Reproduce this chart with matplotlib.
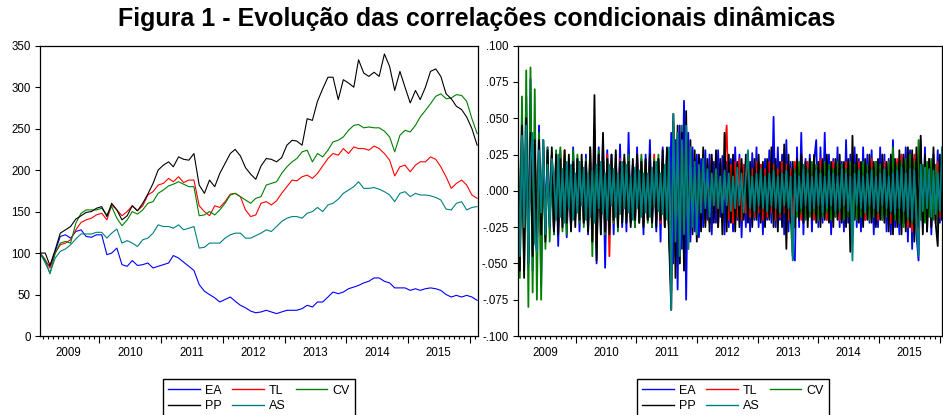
import matplotlib
matplotlib.use("Agg")
import matplotlib.pyplot as plt
import matplotlib.dates as mdates
from matplotlib.ticker import NullFormatter, FixedLocator, FuncFormatter
from matplotlib.transforms import blended_transform_factory
from matplotlib import font_manager
from matplotlib.lines import Line2D
import pandas as pd
import datetime as dt

# ---------------- data ----------------
title = "Figura 1 - Evolução das correlações condicionais dinâmicas"
series_names = ["EA", "TL", "CV", "PP", "AS"]
series_colors = ["#0000FF", "#FF0000", "#008000", "#000000", "#008080"]

# monthly index levels (mid-month, Jan 2009 .. Feb 2016)
price_dates = pd.date_range("2009-01-01", periods=86, freq="MS") + pd.Timedelta(days=14)

EA = [100, 90, 84, 102, 120, 122, 118, 126, 128, 120,
      119, 122, 122, 98, 100, 106, 86, 84, 91, 85,
      86, 88, 82, 84, 86, 88, 97, 94, 89, 84,
      79, 62, 54, 50, 46, 41, 44, 47, 42, 37,
      34, 30, 28, 29, 31, 29, 27, 29, 31, 31,
      31, 33, 37, 35, 41, 41, 47, 53, 51, 53,
      57, 59, 61, 64, 66, 70, 70, 66, 64, 58,
      58, 58, 55, 57, 55, 57, 58, 57, 55, 50,
      47, 49, 47, 49, 47, 43]
TL = [100, 92, 82, 100, 110, 112, 116, 128, 137, 140,
      142, 146, 148, 140, 158, 152, 145, 150, 157, 151,
      157, 170, 174, 182, 184, 190, 186, 192, 185, 188,
      188, 157, 150, 145, 157, 155, 162, 171, 172, 168,
      152, 144, 146, 160, 162, 158, 163, 172, 180, 188,
      187, 192, 194, 190, 196, 205, 214, 220, 218, 226,
      220, 228, 226, 226, 224, 229, 226, 220, 212, 193,
      204, 206, 198, 206, 210, 210, 216, 213, 204, 192,
      178, 184, 188, 182, 170, 166]
CV = [100, 92, 75, 100, 112, 114, 112, 136, 148, 152,
      152, 152, 154, 146, 156, 142, 133, 140, 150, 147,
      152, 160, 162, 172, 176, 181, 183, 186, 183, 180,
      180, 145, 146, 150, 146, 152, 160, 170, 172, 168,
      164, 160, 166, 168, 182, 184, 186, 196, 204, 210,
      214, 222, 224, 210, 220, 216, 224, 234, 236, 240,
      248, 254, 255, 251, 252, 251, 251, 247, 240, 222,
      242, 248, 246, 254, 264, 272, 280, 289, 292, 286,
      287, 291, 290, 283, 262, 244]
PP = [100, 100, 85, 104, 124, 128, 132, 141, 145, 149,
      150, 154, 156, 144, 160, 152, 140, 145, 157, 151,
      160, 171, 184, 200, 206, 210, 204, 216, 213, 212,
      220, 182, 172, 188, 180, 196, 208, 220, 225, 217,
      203, 195, 189, 205, 214, 213, 210, 215, 230, 236,
      235, 230, 262, 260, 283, 298, 312, 312, 285, 309,
      305, 300, 333, 317, 313, 318, 313, 340, 325, 296,
      319, 300, 281, 296, 285, 300, 319, 322, 313, 292,
      286, 277, 273, 264, 250, 230]
AS = [100, 88, 76, 94, 102, 105, 110, 117, 123, 123,
      123, 125, 125, 118, 124, 129, 112, 115, 112, 108,
      116, 118, 124, 134, 132, 132, 130, 134, 128, 130,
      132, 106, 107, 112, 112, 112, 118, 122, 124, 124,
      118, 118, 121, 124, 128, 126, 132, 138, 142, 144,
      144, 142, 148, 150, 155, 150, 158, 160, 165, 172,
      176, 180, 186, 178, 178, 179, 177, 174, 170, 162,
      172, 174, 168, 172, 170, 170, 169, 167, 164, 153,
      152, 160, 162, 152, 155, 156]

# returns (sampled), Jan 2009 .. Jan 2016
return_dates = pd.date_range("2009-01-16", "2016-01-15", periods=200)

rEA = [0.020, -0.040, 0.050, -0.030, 0.065, -0.045, 0.077, -0.055, 0.030, -0.035,
       0.045, -0.065, 0.035, -0.025, 0.030, -0.020, 0.025, -0.030, 0.020, -0.038,
       0.028, -0.020, 0.022, -0.032, 0.018, -0.025, 0.030, -0.015, 0.022, -0.028,
       0.018, -0.022, 0.025, -0.030, 0.020, -0.025, 0.042, -0.050, 0.030, -0.020,
       0.035, -0.053, 0.028, -0.020, 0.025, -0.030, 0.018, -0.022, 0.032, -0.025,
       0.020, -0.028, 0.040, -0.022, 0.018, -0.025, 0.030, -0.020, 0.022, -0.030,
       0.025, -0.018, 0.035, -0.025, 0.020, -0.028, 0.022, -0.035, 0.030, -0.020,
       0.028, -0.030, 0.040, -0.050, 0.035, -0.068, 0.045, -0.040, 0.062, -0.075,
       0.040, -0.035, 0.030, -0.028, 0.025, -0.032, 0.022, -0.025, 0.028, -0.020,
       0.025, -0.030, 0.020, -0.022, 0.028, -0.018, 0.024, -0.030, 0.020, -0.025,
       0.022, -0.028, 0.030, -0.020, 0.025, -0.032, 0.018, -0.025, 0.022, -0.028,
       0.026, -0.020, 0.030, -0.025, 0.018, -0.030, 0.022, -0.020, 0.028, -0.022,
       0.051, -0.025, 0.030, -0.020, 0.025, -0.030, 0.035, -0.028, 0.020, -0.045,
       -0.048, 0.030, -0.025, 0.040, -0.030, 0.022, -0.020, 0.025, -0.028, 0.020,
       0.035, -0.025, 0.030, -0.022, 0.040, -0.020, 0.025, -0.030, 0.022, -0.018,
       0.030, -0.025, 0.020, -0.028, 0.035, -0.022, 0.025, -0.020, 0.030, -0.025,
       0.022, -0.028, 0.030, -0.020, 0.025, -0.022, 0.028, -0.030, 0.020, -0.025,
       0.030, -0.020, 0.025, -0.028, 0.022, -0.030, 0.035, -0.025, 0.020, -0.030,
       0.025, -0.022, 0.030, -0.035, 0.028, -0.040, 0.022, -0.030, -0.048, 0.035,
       -0.025, 0.030, -0.028, 0.022, -0.030, 0.025, -0.020, 0.028, -0.022, 0.018]
rTL = [0.030, -0.035, 0.040, -0.050, 0.035, -0.040, 0.045, -0.030, 0.028, -0.035,
       0.030, -0.025, 0.028, -0.030, 0.022, -0.020, 0.025, -0.028, 0.020, -0.022,
       0.025, -0.020, 0.028, -0.022, 0.018, -0.025, 0.020, -0.018, 0.022, -0.020,
       0.018, -0.022, 0.020, -0.025, 0.028, -0.035, 0.030, -0.040, 0.025, -0.020,
       0.022, -0.030, 0.025, -0.045, 0.020, -0.022, 0.018, -0.020, 0.022, -0.018,
       0.020, -0.018, 0.022, -0.020, 0.018, -0.022, 0.025, -0.018, 0.020, -0.022,
       0.018, -0.020, 0.022, -0.018, 0.025, -0.020, 0.018, -0.022, 0.020, -0.025,
       0.022, -0.030, -0.062, 0.045, -0.040, 0.035, -0.045, 0.040, -0.030, 0.035,
       -0.028, 0.025, -0.022, 0.020, -0.025, 0.022, -0.018, 0.020, -0.022, 0.018,
       -0.020, 0.022, -0.018, 0.020, -0.025, 0.018, -0.022, 0.020, 0.045, -0.020,
       0.018, -0.022, 0.020, -0.018, 0.022, -0.020, 0.018, -0.015, 0.020, -0.018,
       0.015, -0.018, 0.020, -0.015, 0.018, -0.020, 0.015, -0.018, 0.020, -0.015,
       0.018, -0.020, 0.015, -0.018, 0.020, -0.015, 0.018, -0.020, 0.015, -0.018,
       0.020, -0.015, 0.018, -0.020, 0.015, -0.018, 0.020, -0.015, 0.018, -0.020,
       0.015, -0.018, 0.022, -0.015, 0.018, -0.020, 0.015, -0.018, 0.020, -0.015,
       0.018, -0.020, 0.015, -0.018, 0.020, -0.015, 0.018, -0.020, 0.015, -0.018,
       0.020, -0.015, 0.018, -0.020, 0.015, -0.018, 0.022, -0.015, 0.018, -0.020,
       0.015, -0.018, 0.020, -0.015, 0.018, -0.022, 0.020, -0.018, 0.022, -0.020,
       0.025, -0.022, 0.020, -0.025, 0.022, -0.028, 0.025, -0.020, -0.030, 0.025,
       -0.022, 0.020, -0.018, 0.022, -0.020, 0.018, -0.022, 0.020, -0.018, 0.015]
rCV = [0.050, -0.060, 0.065, -0.055, 0.083, -0.080, 0.085, -0.070, 0.070, -0.075,
       0.040, -0.075, 0.035, -0.040, 0.030, -0.035, 0.025, -0.030, 0.028, -0.025,
       0.030, -0.028, 0.025, -0.030, 0.022, -0.025, 0.028, -0.020, 0.025, -0.022,
       0.020, -0.025, 0.022, -0.028, 0.030, -0.045, 0.035, -0.040, 0.028, -0.030,
       0.025, -0.030, 0.022, -0.025, 0.020, -0.022, 0.025, -0.028, 0.020, -0.022,
       0.022, -0.020, 0.025, -0.022, 0.018, -0.025, 0.020, -0.022, 0.025, -0.020,
       0.020, -0.022, 0.018, -0.025, 0.022, -0.020, 0.025, -0.018, 0.020, -0.025,
       0.025, -0.030, -0.070, 0.048, -0.045, 0.040, -0.050, 0.045, -0.040, 0.035,
       -0.030, 0.028, -0.025, 0.022, -0.025, 0.020, -0.022, 0.025, -0.020, 0.018,
       -0.022, 0.020, -0.018, 0.022, -0.020, 0.018, -0.022, 0.020, -0.018, 0.020,
       -0.018, 0.020, -0.022, 0.018, -0.020, 0.015, -0.018, 0.020, -0.015, 0.018,
       -0.020, 0.015, -0.018, 0.020, -0.015, 0.018, -0.020, 0.015, -0.018, 0.020,
       -0.015, 0.018, -0.020, 0.015, -0.018, 0.020, -0.015, 0.018, -0.020, -0.045,
       0.015, -0.018, 0.020, -0.015, 0.018, -0.020, 0.015, -0.018, 0.020, -0.015,
       0.018, -0.020, 0.015, -0.018, 0.020, -0.015, 0.018, -0.020, 0.015, -0.018,
       0.020, -0.015, 0.018, -0.020, 0.015, -0.018, 0.020, -0.022, 0.018, -0.020,
       0.015, -0.018, 0.020, -0.015, 0.018, -0.020, 0.015, -0.018, 0.020, -0.015,
       0.018, -0.020, 0.015, -0.018, 0.020, -0.015, 0.030, -0.020, 0.018, -0.022,
       0.020, -0.025, 0.022, -0.020, 0.025, -0.022, 0.020, -0.025, 0.035, -0.020,
       0.018, -0.022, 0.020, -0.018, 0.022, -0.020, 0.018, -0.025, 0.020, -0.015]
rPP = [0.040, -0.055, 0.045, -0.060, 0.050, -0.050, 0.040, -0.045, 0.035, -0.040,
       0.035, -0.030, 0.030, -0.035, 0.028, -0.025, 0.030, -0.028, 0.025, -0.030,
       0.022, -0.025, 0.028, -0.022, 0.025, -0.028, 0.020, -0.025, 0.022, -0.020,
       0.025, -0.022, 0.020, -0.028, 0.030, -0.035, 0.066, -0.048, 0.025, -0.030,
       0.040, -0.028, 0.022, -0.030, 0.025, -0.020, 0.028, -0.025, 0.020, -0.022,
       0.025, -0.022, 0.020, -0.025, 0.022, -0.020, 0.025, -0.022, 0.020, -0.025,
       0.022, -0.020, 0.025, -0.022, 0.020, -0.025, 0.022, -0.020, 0.028, -0.025,
       0.030, -0.035, -0.082, 0.053, -0.060, 0.045, -0.050, 0.040, -0.055, 0.055,
       -0.040, 0.035, -0.030, 0.028, -0.035, 0.025, -0.028, 0.030, -0.025, 0.022,
       -0.028, 0.025, -0.022, 0.028, -0.025, 0.022, -0.030, 0.040, -0.028, 0.025,
       -0.022, 0.025, -0.028, 0.020, -0.025, 0.022, -0.020, 0.025, -0.022, 0.020,
       -0.025, 0.022, -0.020, 0.025, -0.022, 0.020, -0.025, 0.022, -0.020, 0.030,
       -0.025, 0.022, -0.028, 0.020, -0.025, 0.032, -0.040, 0.025, -0.022, 0.020,
       -0.025, 0.022, -0.020, 0.025, -0.022, 0.020, -0.025, 0.022, -0.020, 0.025,
       -0.022, 0.020, -0.025, 0.022, -0.020, 0.025, -0.022, 0.020, -0.025, 0.022,
       -0.020, 0.025, -0.022, 0.020, -0.025, 0.022, -0.042, 0.038, -0.020, 0.025,
       -0.022, 0.020, -0.025, 0.022, -0.020, 0.025, -0.022, 0.020, -0.025, 0.022,
       -0.020, 0.025, -0.022, 0.020, -0.028, 0.025, -0.030, 0.022, -0.025, 0.028,
       -0.030, 0.025, -0.028, 0.030, -0.025, 0.028, -0.035, 0.030, -0.025, 0.038,
       -0.030, 0.025, -0.028, 0.022, -0.025, 0.030, -0.022, -0.038, 0.025, -0.020]
rAS = [0.030, -0.045, 0.038, -0.025, 0.045, -0.050, 0.020, 0.040, -0.035, -0.042,
       0.028, -0.015, 0.035, -0.030, 0.018, -0.025, 0.022, 0.010, -0.020, 0.025,
       -0.018, 0.015, -0.022, 0.020, -0.012, 0.018, -0.020, 0.012, -0.015, 0.020,
       -0.010, 0.016, -0.020, 0.012, -0.018, 0.014, -0.022, 0.018, -0.012, 0.020,
       -0.016, 0.012, -0.020, 0.018, -0.010, 0.015, -0.018, 0.012, -0.016, 0.020,
       -0.012, 0.018, -0.015, 0.010, -0.020, 0.016, -0.012, 0.014, -0.018, 0.012,
       -0.015, 0.012, -0.018, 0.016, -0.010, 0.020, -0.014, 0.012, -0.016, 0.018,
       -0.020, 0.030, -0.082, 0.053, -0.035, 0.040, -0.045, 0.035, -0.030, 0.045,
       -0.040, 0.030, -0.025, 0.020, -0.030, 0.018, -0.015, 0.022, -0.012, 0.015,
       -0.018, 0.012, -0.010, 0.015, -0.012, 0.010, -0.015, 0.014, -0.010, 0.012,
       -0.014, 0.010, -0.012, 0.016, -0.010, 0.012, -0.015, 0.010, 0.028, -0.012,
       0.010, -0.014, 0.012, -0.010, 0.015, -0.012, 0.010, -0.014, 0.012, -0.010,
       0.014, -0.012, 0.010, -0.015, 0.012, -0.010, 0.014, -0.012, 0.010, -0.048,
       0.012, -0.014, 0.010, -0.012, 0.015, -0.010, 0.012, -0.014, 0.010, -0.012,
       0.014, -0.010, 0.012, -0.015, 0.010, -0.012, 0.014, -0.010, 0.012, -0.014,
       0.010, -0.012, 0.015, -0.010, 0.012, -0.014, 0.010, -0.048, 0.012, -0.010,
       0.014, -0.012, 0.010, -0.015, 0.012, -0.010, 0.014, -0.012, 0.010, -0.014,
       0.012, -0.010, 0.015, -0.012, 0.010, -0.014, 0.012, -0.016, 0.014, -0.012,
       0.016, -0.014, 0.012, -0.018, 0.015, -0.020, 0.014, -0.022, -0.045, 0.018,
       -0.014, 0.016, -0.012, 0.015, -0.018, 0.014, -0.016, 0.012, -0.014, 0.030]

left_yticks = [0, 50, 100, 150, 200, 250, 300, 350]
right_yticks = [-0.100, -0.075, -0.050, -0.025, 0.000, 0.025, 0.050, 0.075, 0.100]
year_labels = [2009, 2010, 2011, 2012, 2013, 2014, 2015]

# ---------------- fonts ----------------
names = {f.name for f in font_manager.fontManager.ttflist}
base_font = "Liberation Sans" if "Liberation Sans" in names else "DejaVu Sans"
plt.rcParams["font.family"] = [base_font, "DejaVu Sans"]

W, H = 943, 415
fig = plt.figure(figsize=(W / 100, H / 100), dpi=100)
axL = fig.add_axes([40 / W, 79 / H, 438 / W, 290.3 / H])
axR = fig.add_axes([517.7 / W, 79 / H, 424.3 / W, 290.3 / H])

price_data = [EA, TL, CV, PP, AS]
ret_data = [rEA, rTL, rCV, rPP, rAS]
for vals, col, name in zip(price_data, series_colors, series_names):
    axL.plot(price_dates, vals, color=col, lw=0.8, label=name)
for vals, col, name in zip(ret_data, series_colors, series_names):
    axR.plot(return_dates, vals, color=col, lw=1.3, label=name)

axL.set_xlim(dt.datetime(2009, 1, 15), dt.datetime(2016, 2, 20))
axR.set_xlim(dt.datetime(2009, 1, 16), dt.datetime(2016, 1, 15))
axL.set_ylim(0, 350)
axR.set_ylim(-0.1, 0.1)
axL.yaxis.set_major_locator(FixedLocator(left_yticks))
axR.yaxis.set_major_locator(FixedLocator(right_yticks))


def fmt_dot(v, pos):
    s = f"{v:.3f}"
    return s.replace("0.", ".", 1)


axR.yaxis.set_major_formatter(FuncFormatter(fmt_dot))

for ax in (axL, axR):
    ax.xaxis.set_major_locator(mdates.YearLocator())
    ax.xaxis.set_minor_locator(mdates.MonthLocator())
    ax.xaxis.set_major_formatter(NullFormatter())
    ax.tick_params(axis="x", which="major", length=5, width=0.8, direction="out")
    ax.tick_params(axis="x", which="minor", length=2.5, width=0.8, direction="out")
    ax.tick_params(axis="y", which="major", length=3.3, width=0.8, direction="out",
                   labelsize=8.3, pad=3.5)
    for sp in ax.spines.values():
        sp.set_linewidth(0.9)
        sp.set_color("black")
    trans = blended_transform_factory(ax.transData, ax.transAxes)
    for yr in year_labels:
        ax.text(mdates.date2num(dt.datetime(yr, 7, 2)), -0.058, str(yr),
                transform=trans, ha="center", va="center", fontsize=8.3)

# legend filled row by row: EA TL CV / PP AS
handles = [Line2D([], [], color=c, lw=1.0) for c in series_colors]
order = [0, 3, 1, 4, 2]
for cx in (259 / W, 733 / W):
    fig.legend([handles[i] for i in order], [series_names[i] for i in order],
               loc="upper center", bbox_to_anchor=(cx, 1 - 379 / H),
               borderaxespad=0, ncol=3, fontsize=9,
               frameon=True, fancybox=False, edgecolor="black",
               framealpha=1, handlelength=2.55, handletextpad=0.4,
               columnspacing=0.8, borderpad=0.45, labelspacing=0.3)

fig.text(477 / W, 1 - 19 / H, title, fontsize=18, fontweight="bold",
         ha="center", va="center")

fig.savefig("out.png", dpi=100)
